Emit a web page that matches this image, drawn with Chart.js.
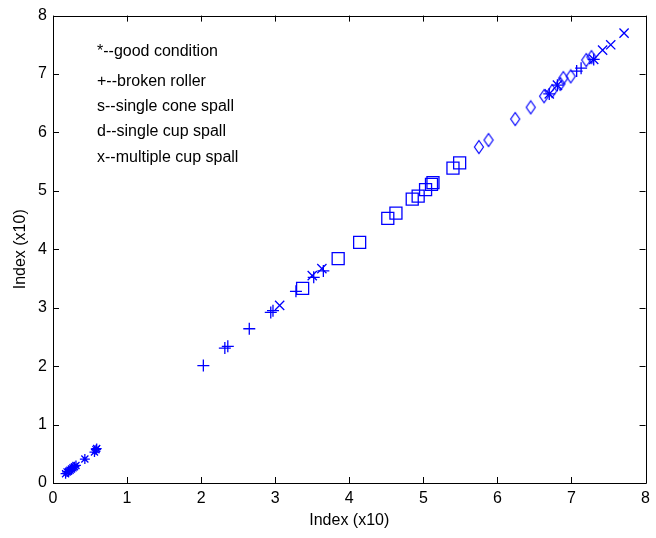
<!DOCTYPE html>
<html>
<head>
<meta charset="utf-8">
<script src="https://cdn.jsdelivr.net/npm/chart.js@4/dist/chart.umd.min.js"></script>
<style>
  html, body { margin: 0; padding: 0; background: #fff; }
  #wrap { width: 656px; height: 538px; }
</style>
</head>
<body>
<div id="wrap"><canvas id="chart" width="656" height="538"></canvas></div>
<script>
// data (x, y pairs in "Index (x10)" units)
const goodX = [0.17, 0.19, 0.21, 0.23, 0.25, 0.27, 0.29, 0.31, 0.43, 0.56, 0.58, 0.59];
const goodY = [0.16, 0.19, 0.20, 0.22, 0.24, 0.26, 0.28, 0.30, 0.41, 0.53, 0.57, 0.59];

const brokenX = [2.03, 2.32, 2.36, 2.65, 2.94, 2.97, 3.28, 3.52, 3.65, 6.70, 6.81, 7.07, 7.13, 7.30];
const brokenY = [2.01, 2.31, 2.34, 2.64, 2.92, 2.95, 3.28, 3.52, 3.63, 6.66, 6.81, 7.05, 7.10, 7.25];

const coneX = [3.37, 3.85, 4.14, 4.52, 4.63, 4.85, 4.93, 5.03, 5.11, 5.13, 5.40, 5.49];
const coneY = [3.33, 3.84, 4.12, 4.53, 4.62, 4.86, 4.91, 5.02, 5.11, 5.14, 5.39, 5.48];

const cupX = [5.75, 5.88, 6.24, 6.45, 6.63, 6.74, 6.85, 6.89, 6.99, 7.20, 7.27];
const cupY = [5.75, 5.87, 6.23, 6.43, 6.62, 6.71, 6.83, 6.93, 6.96, 7.24, 7.29];

const multiX = [3.06, 3.50, 3.63, 6.70, 6.81, 7.30, 7.42, 7.53, 7.71];
const multiY = [3.04, 3.55, 3.67, 6.66, 6.81, 7.25, 7.41, 7.50, 7.70];

const axisTicks = [0, 1, 2, 3, 4, 5, 6, 7, 8];
const notes = ['*--good condition', '+--broken roller', 's--single cone spall', 'd--single cup spall', 'x--multiple cup spall'];

const blue = '#0000ff';
const font = "'Liberation Sans', Arial, sans-serif";

// matlab's diamond is taller than it is wide
function diamondMarker() {
  const cv = document.createElement('canvas');
  cv.width = 12; cv.height = 16;
  const g = cv.getContext('2d');
  g.strokeStyle = blue;
  g.lineWidth = 1.2;
  g.beginPath();
  g.moveTo(6, 1.5); g.lineTo(10.5, 8); g.lineTo(6, 14.5); g.lineTo(1.5, 8);
  g.closePath();
  g.stroke();
  return cv;
}

function pts(xs, ys) {
  return xs.map((x, i) => ({ x: x, y: ys[i] }));
}

function series(label, xs, ys, style, radius) {
  return {
    label: label,
    data: pts(xs, ys),
    pointStyle: style,
    pointRadius: radius,
    pointHoverRadius: radius,
    pointBorderColor: blue,
    pointBackgroundColor: 'rgba(0,0,0,0)',
    pointBorderWidth: 1.3,
    showLine: false
  };
}

// matlab style box with inward ticks + text notes
const boxPlugin = {
  id: 'box',
  afterDraw(c) {
    const a = c.chartArea;
    const ctx = c.ctx;
    const xs = c.scales.x, ys = c.scales.y;
    ctx.save();
    ctx.strokeStyle = '#000';
    ctx.lineWidth = 1;
    ctx.beginPath();
    ctx.rect(Math.round(a.left) + 0.5, Math.round(a.top) + 0.5, Math.round(a.right - a.left), Math.round(a.bottom - a.top));
    axisTicks.forEach(v => {
      const px = Math.round(xs.getPixelForValue(v)) + 0.5;
      const py = Math.round(ys.getPixelForValue(v)) + 0.5;
      ctx.moveTo(px, a.bottom); ctx.lineTo(px, a.bottom - 6);
      ctx.moveTo(px, a.top); ctx.lineTo(px, a.top + 6);
      ctx.moveTo(a.left, py); ctx.lineTo(a.left + 6, py);
      ctx.moveTo(a.right, py); ctx.lineTo(a.right - 6, py);
    });
    ctx.stroke();

    ctx.fillStyle = '#000';
    ctx.font = '16px ' + font;
    ctx.textBaseline = 'middle';
    ctx.textAlign = 'left';
    const rows = [36, 66, 91, 116, 142];
    notes.forEach((t, i) => ctx.fillText(t, a.left + 44, a.top + rows[i]));
    ctx.restore();
  }
};

new Chart(document.getElementById('chart'), {
  type: 'scatter',
  data: {
    datasets: [
      series('good condition', goodX, goodY, 'star', 5),
      series('broken roller', brokenX, brokenY, 'cross', 6),
      series('single cone spall', coneX, coneY, 'rect', 8.5),
      series('single cup spall', cupX, cupY, diamondMarker(), 6),
      series('multiple cup spall', multiX, multiY, 'crossRot', 6.5)
    ]
  },
  options: {
    responsive: false,
    animation: false,
    layout: { padding: { left: 0, top: 14, right: 8, bottom: 0 } },
    plugins: {
      legend: { display: false },
      tooltip: { enabled: false }
    },
    scales: {
      x: {
        type: 'linear',
        min: 0, max: 8,
        afterFit: s => { s.height = 55; },
        grid: { display: false, drawTicks: false },
        border: { display: false },
        ticks: { stepSize: 1, color: '#000', padding: 6, font: { family: font, size: 16 } },
        title: { display: true, text: 'Index (x10)', color: '#000', padding: { top: 0, bottom: 8 }, font: { family: font, size: 16 } }
      },
      y: {
        type: 'linear',
        min: 0, max: 8,
        afterFit: s => { s.width = 53; },
        grid: { display: false, drawTicks: false },
        border: { display: false },
        ticks: { stepSize: 1, color: '#000', padding: 6, font: { family: font, size: 16 } },
        title: { display: true, text: 'Index (x10)', color: '#000', padding: { top: 11, bottom: 0 }, font: { family: font, size: 16 } }
      }
    }
  },
  plugins: [boxPlugin]
});
</script>
</body>
</html>
